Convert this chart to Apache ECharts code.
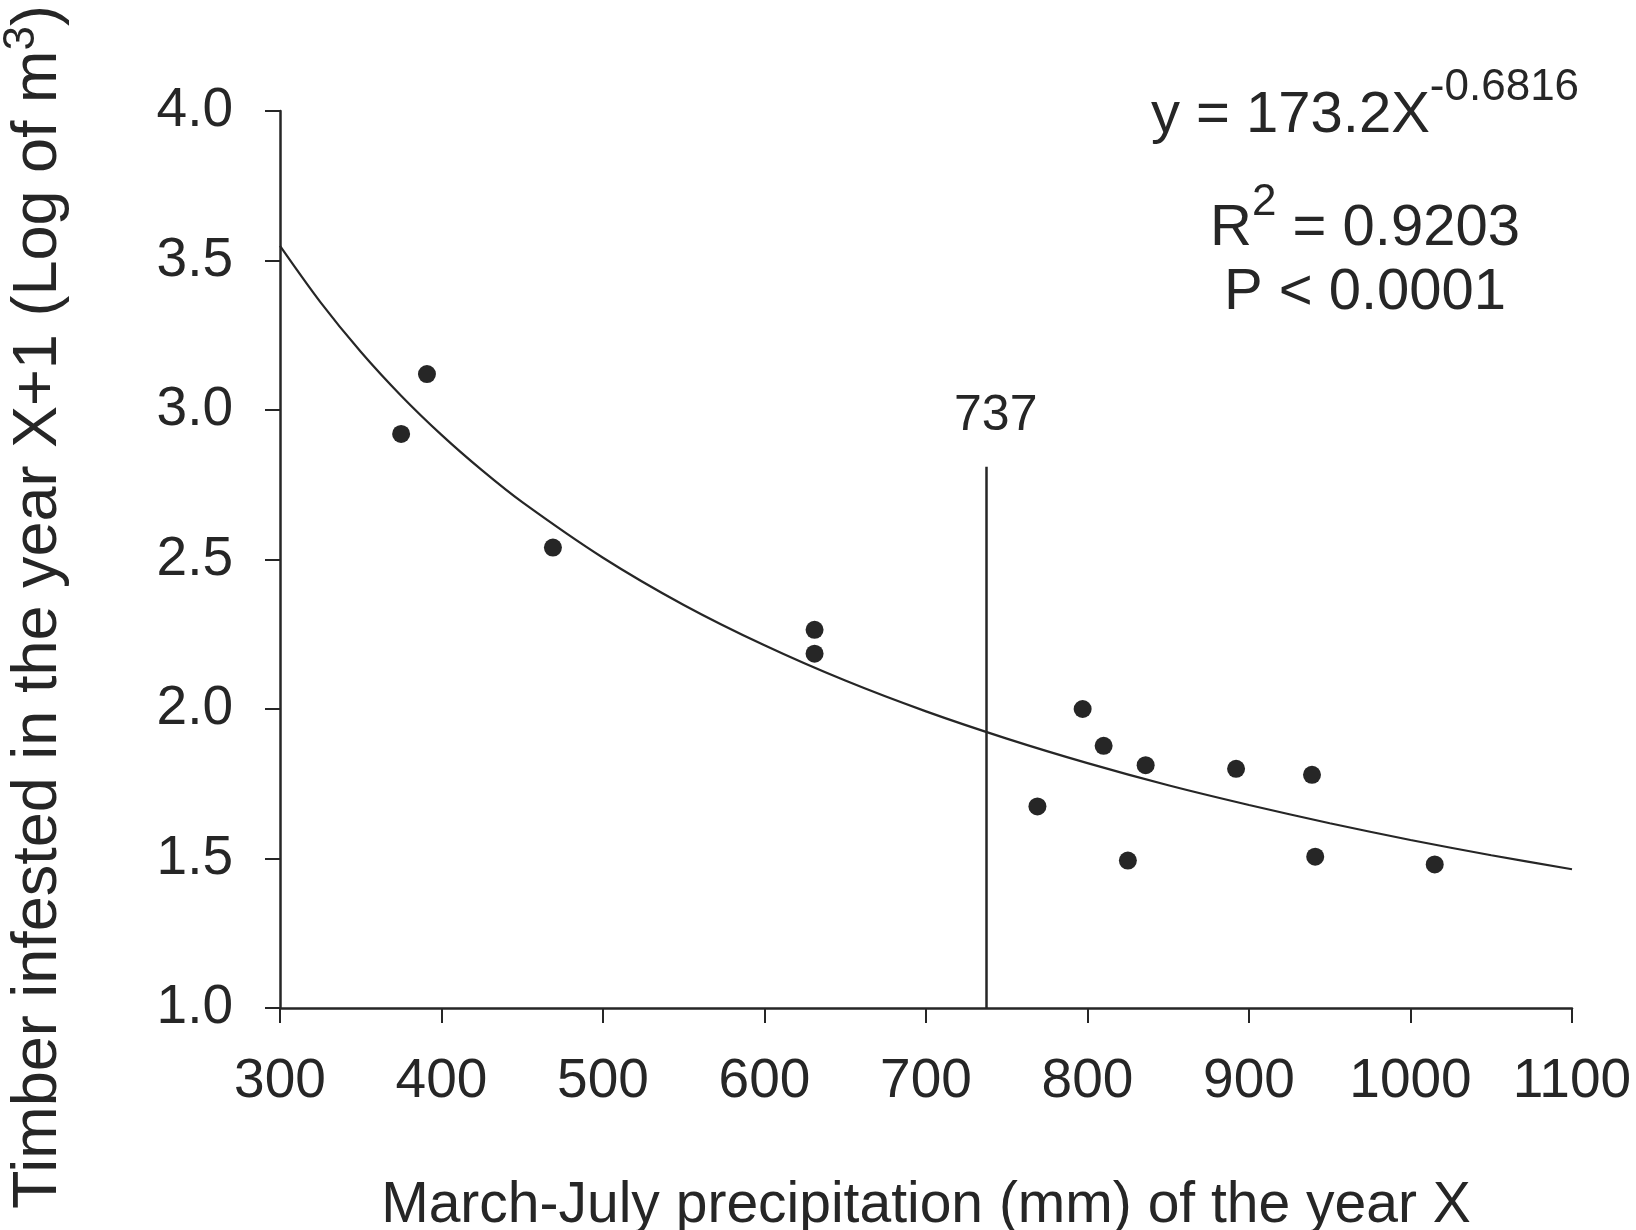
<!DOCTYPE html>
<html>
<head>
<meta charset="utf-8">
<script src="https://cdn.jsdelivr.net/npm/echarts@6/dist/echarts.min.js"></script>
<style>
  html, body { margin: 0; padding: 0; background: #fff; }
  #chart { width: 1636px; height: 1230px; }
</style>
</head>
<body>
<div id="chart"></div>
<script>
  // observed points: March-July precipitation (mm) vs log timber infested next year
  var precip = [375, 391, 469, 631, 631, 797, 810, 836, 769, 892, 939, 825, 941, 1015];
  var timber = [2.92, 3.12, 2.54, 2.265, 2.185, 2.00, 1.877, 1.812, 1.674, 1.80, 1.78, 1.493, 1.506, 1.48];

  // fitted curve
  var curveX = [300, 325, 350, 375, 400, 425, 450, 500, 550, 600, 650, 700, 750, 800, 850, 900, 950, 1000, 1050, 1100];
  var curveY = [3.549, 3.361, 3.195, 3.048, 2.917, 2.799, 2.692, 2.506, 2.348, 2.213, 2.095, 1.992, 1.901, 1.819, 1.745, 1.679, 1.618, 1.562, 1.511, 1.464];

  // threshold line
  var thresholdX = 737;
  var thresholdTop = 2.81;

  var xTicks = [300, 1100, 100];
  var yTicks = [1.0, 4.0, 0.5];

  var ink = '#262626';
  var font = 'Liberation Sans, Arial, Helvetica, sans-serif';

  var chart = echarts.init(document.getElementById('chart'));

  var points = precip.map(function (x, i) { return [x, timber[i]]; });
  var curve = curveX.map(function (x, i) { return [x, curveY[i]]; });

  var option = {
    backgroundColor: '#fff',
    animation: false,
    grid: { left: 280, right: 64, top: 111, bottom: 222, containLabel: false, outerBoundsMode: 'none' },
    xAxis: {
      type: 'value',
      min: xTicks[0], max: xTicks[1], interval: xTicks[2],
      splitLine: { show: false },
      axisLine: { show: true, onZero: false, lineStyle: { color: ink, width: 2.5 } },
      axisTick: { show: true, inside: false, length: 15, lineStyle: { color: ink, width: 2 } },
      axisLabel: {
        color: ink, fontSize: 55, fontFamily: font, margin: 46,
        formatter: function (v) { return String(v); }
      },
      name: 'March-July precipitation (mm) of the year X',
      nameLocation: 'middle',
      nameGap: 170,
      nameTextStyle: { color: ink, fontSize: 57, fontFamily: font }
    },
    yAxis: {
      type: 'value',
      min: yTicks[0], max: yTicks[1], interval: yTicks[2],
      splitLine: { show: false },
      axisLine: { show: true, onZero: false, lineStyle: { color: ink, width: 2.5 } },
      axisTick: { show: true, inside: false, length: 15, lineStyle: { color: ink, width: 2 } },
      axisLabel: {
        color: ink, fontSize: 55, fontFamily: font, margin: 47,
        formatter: function (v) { return v.toFixed(1); }
      }
    },
    graphic: [
      {
        type: 'text',
        x: 38.5, y: 607,
        rotation: Math.PI / 2,
        style: {
          text: '{a|Timber infested in the year X+1 (Log of m}{s|3}{a|)}',
          align: 'center', verticalAlign: 'middle',
          textAlign: 'center', textVerticalAlign: 'middle',
          fill: ink,
          rich: {
            a: { fontSize: 63, lineHeight: 77, fontFamily: font, fill: ink, color: ink },
            s: { fontSize: 44, lineHeight: 44, verticalAlign: 'top', fontFamily: font, fill: ink, color: ink }
          }
        }
      },
      {
        type: 'text',
        x: 1365, y: 66,
        style: {
          text: '{a|y = 173.2X}{s|-0.6816}',
          align: 'center', verticalAlign: 'top',
          textAlign: 'center', textVerticalAlign: 'top',
          fill: ink,
          rich: {
            a: { fontSize: 58, lineHeight: 100, fontFamily: font, fill: ink, color: ink },
            s: { fontSize: 44, lineHeight: 44, verticalAlign: 'top', fontFamily: font, fill: ink, color: ink }
          }
        }
      },
      {
        type: 'text',
        x: 1365, y: 181,
        style: {
          text: '{a|R}{s|2}{a| = 0.9203}',
          align: 'center', verticalAlign: 'top',
          textAlign: 'center', textVerticalAlign: 'top',
          fill: ink,
          rich: {
            a: { fontSize: 58, lineHeight: 96, fontFamily: font, fill: ink, color: ink },
            s: { fontSize: 44, lineHeight: 44, verticalAlign: 'top', fontFamily: font, fill: ink, color: ink }
          }
        }
      },
      {
        type: 'text',
        x: 1365, y: 264,
        style: {
          text: 'P < 0.0001',
          align: 'center', verticalAlign: 'top',
          textAlign: 'center', textVerticalAlign: 'top',
          fill: ink,
          fontSize: 58, fontFamily: font,
          lineHeight: 58
        }
      }
    ],
    series: [
      {
        name: 'fit',
        type: 'line',
        data: curve,
        smooth: 0.3,
        showSymbol: false,
        symbol: 'none',
        lineStyle: { color: ink, width: 2.2 },
        silent: true,
        z: 2,
        markLine: {
          silent: true,
          symbol: ['none', 'none'],
          lineStyle: { color: ink, width: 2.5, type: 'solid' },
          label: {
            show: true,
            position: 'end',
            distance: 26,
            formatter: String(thresholdX),
            color: ink,
            fontSize: 50,
            fontFamily: font,
            offset: [10, 0]
          },
          data: [[
            { coord: [thresholdX, yTicks[0]] },
            { coord: [thresholdX, thresholdTop] }
          ]]
        }
      },
      {
        name: 'observed',
        type: 'scatter',
        data: points,
        symbol: 'circle',
        symbolSize: 18,
        itemStyle: { color: ink, opacity: 1 },
        z: 3
      }
    ]
  };

  chart.setOption(option);
  window.addEventListener('resize', function () { chart.resize(); });
</script>
</body>
</html>
